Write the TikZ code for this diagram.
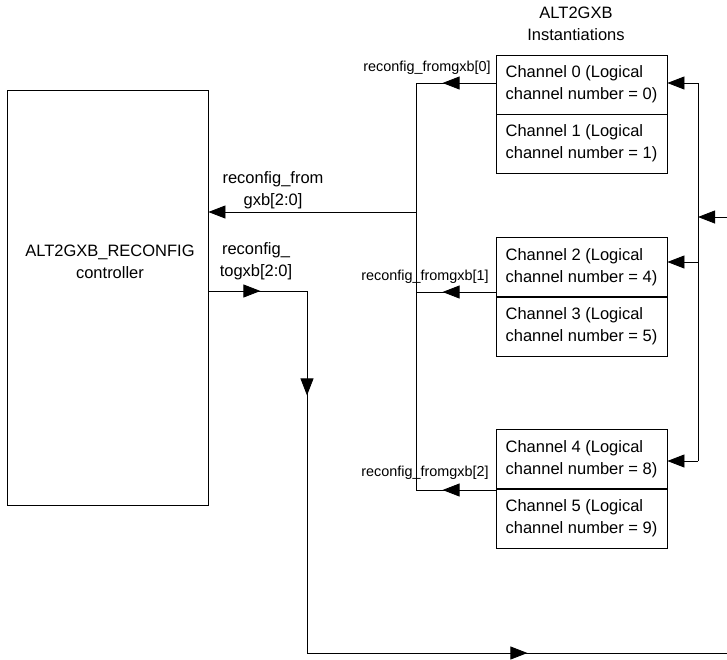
\documentclass[tikz,border=0pt]{standalone}
\usepackage{fontspec}
\setmainfont{Liberation Sans}
\usetikzlibrary{arrows.meta,decorations.markings}
\begin{document}
\begin{tikzpicture}[x=1pt,y=-1pt,line width=0.8pt,
  >={Triangle[length=17pt,width=13pt]},
  big/.style={font=\fontsize{16.5}{22}\selectfont,inner sep=0pt},
  lbl/.style={font=\fontsize{14.4}{18}\selectfont,inner sep=0pt},
  chan/.style={draw,rectangle,minimum width=171pt,minimum height=59pt,align=left,inner sep=0pt,font=\fontsize{16.5}{22}\selectfont},
  ctrlbox/.style={draw,rectangle,minimum width=201pt,minimum height=415pt,inner sep=0pt},
  midarrow/.style={postaction={decorate},decoration={markings,mark=at position #1 with {\arrow{>}}}},
  toarrows/.style={postaction={decorate},decoration={markings,
     mark=at position 52pt with {\arrow{>}},
     mark=at position 203pt with {\arrow{>}},
     mark=at position 681pt with {\arrow{>}}}}]
\useasboundingbox (0,0) rectangle (727,659);
% controller
\node[ctrlbox] (ctrl) at (107.5,297.5) {};
\node[big,align=center] (ctrltxt) at (110,262) {ALT2GXB\_RECONFIG\\controller};
% title
\node[big,align=center] (title) at (576,24) {ALT2GXB\\Instantiations};
% channels
\node[chan] (c0) at (581.5,84.5) {Channel 0 (Logical\\channel number = 0)};
\node[chan] (c1) at (581.5,143.5) {Channel 1 (Logical\\channel number = 1)};
\node[chan] (c2) at (581.5,267) {Channel 2 (Logical\\channel number = 4)};
\node[chan] (c3) at (581.5,326.5) {Channel 3 (Logical\\channel number = 5)};
\node[chan] (c4) at (581.5,459) {Channel 4 (Logical\\channel number = 8)};
\node[chan] (c5) at (581.5,518.5) {Channel 5 (Logical\\channel number = 9)};
% bus
\coordinate (bustop) at (416,83);
\coordinate (b1) at (416,292);
\coordinate (busbot) at (416,490);
\coordinate (bmid) at (416,212);
\draw (bustop) -- (busbot);
\draw[midarrow=53pt] (c0.west |- bustop) -- (bustop);
\draw[midarrow=53pt] (c2.west |- b1) -- (b1);
\draw[midarrow=53pt] (c4.west |- busbot) -- (busbot);
\draw[->] (bmid) -- (ctrl.east |- bmid);
% labels
\node[lbl,anchor=east] (l0) at (491,68) {reconfig\_fromgxb[0]};
\node[lbl,anchor=east] (l1) at (489,277) {reconfig\_fromgxb[1]};
\node[lbl,anchor=east] (l2) at (489,473) {reconfig\_fromgxb[2]};
\node[big,align=center] (lfrom) at (273,190.5) {reconfig\_from\\gxb[2:0]};
\node[big,align=center] (lto) at (256,261.5) {reconfig\_\\togxb[2:0]};
% togxb path
\coordinate (t1) at (307,291);
\coordinate (t2) at (307,653);
\coordinate (tend) at (727,653);
\draw[toarrows] (ctrl.east |- t1) -- (t1) -- (t2) -- (tend);
% right side
\coordinate (r0) at (698,83);
\coordinate (r1) at (698,262);
\coordinate (r2) at (698,461);
\coordinate (rin) at (727,217);
\coordinate (rj) at (698,217);
\draw (r0) -- (r2);
\draw[->] (r0) -- (c0.east |- r0);
\draw[->] (r1) -- (c2.east |- r1);
\draw[->] (r2) -- (c4.east |- r2);
\draw[->] (rin) -- (rj);
\end{tikzpicture}
\end{document}
